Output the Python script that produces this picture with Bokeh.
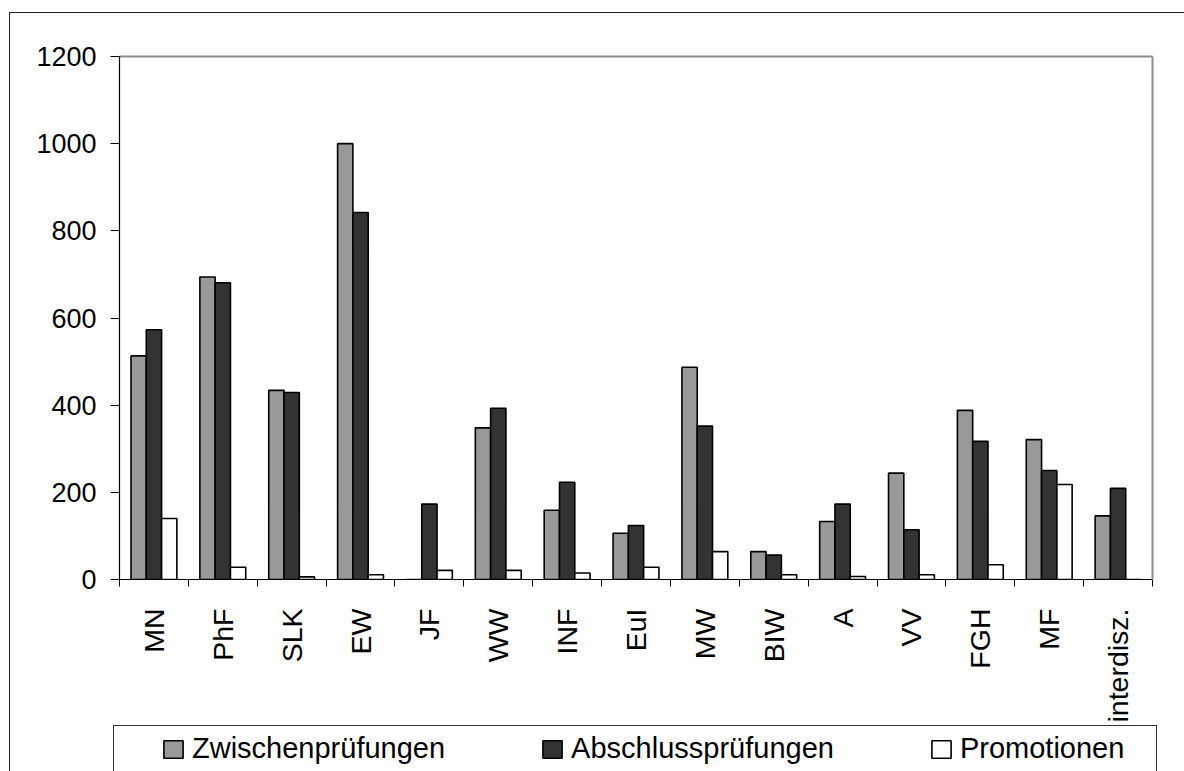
import math
import numpy as np
from bokeh.plotting import figure
from bokeh.layouts import column
from bokeh.models import (ColumnDataSource, Range1d, FixedTicker, LinearAxis, Legend,
                          LegendItem)
from bokeh.transform import dodge
from bokeh.embed import file_html
from bokeh.resources import INLINE

categories = ["MN", "PhF", "SLK", "EW", "JF", "WW", "INF", "EuI", "MW", "BIW",
              "A", "VV", "FGH", "MF", "interdisz."]
zwischen = [513, 694, 434, 1000, 0, 348, 159, 106, 487, 64, 133, 244, 388, 321, 146]
abschluss = [573, 681, 429, 842, 173, 393, 223, 124, 352, 56, 173, 114, 317, 250, 209]
promotionen = [140, 28, 6, 11, 21, 21, 15, 28, 64, 11, 7, 11, 34, 218, 0]
series_names = ["Zwischenprüfungen", "Abschlussprüfungen", "Promotionen"]
y_ticks = [0, 200, 400, 600, 800, 1000, 1200]

FONT = "Liberation Sans"
n = len(categories)
xpos = np.arange(n) + 0.5
source = ColumnDataSource(dict(x=xpos, z=zwischen, a=abschluss, p=promotionen))

W = 1184
H1 = 725
H2 = 46

p = figure(width=W, height=H1, output_backend="svg", toolbar_location=None,
           x_range=Range1d(0, n), y_range=Range1d(0, 1200),
           min_border_left=119, min_border_right=32, min_border_top=56,
           min_border_bottom=146, x_axis_type=None, y_axis_type=None)
p.outline_line_color = None
p.background_fill_color = None
p.border_fill_color = None

bw = 0.222
colors = ["#999999", "#333333", "#ffffff"]
fields = ["z", "a", "p"]
offsets = [-bw, 0.0, bw]
for f, c, o in zip(fields, colors, offsets):
    p.vbar(x=dodge("x", o), top=f, width=bw, source=source,
           fill_color=c, line_color="black", line_width=1.6)

# y axis
yaxis = LinearAxis(ticker=FixedTicker(ticks=y_ticks))
yaxis.axis_line_color = "black"
yaxis.axis_line_width = 1.2
yaxis.major_tick_out = 9
yaxis.major_tick_in = 0
yaxis.minor_tick_out = 0
yaxis.minor_tick_in = 0
yaxis.major_tick_line_color = "black"
yaxis.major_label_standoff = 14
yaxis.major_label_text_font = FONT
yaxis.major_label_text_font_size = "27px"
yaxis.major_label_text_color = "black"
p.add_layout(yaxis, "left")

# x axis: labels at centers, ticks at category borders
xaxis = LinearAxis(ticker=FixedTicker(ticks=list(xpos), minor_ticks=list(range(n + 1))))
xaxis.major_label_overrides = {float(x): c for x, c in zip(xpos, categories)}
xaxis.major_label_orientation = math.pi / 2
xaxis.axis_line_color = "black"
xaxis.axis_line_width = 1.2
xaxis.major_tick_out = 0
xaxis.major_tick_in = 0
xaxis.minor_tick_out = 7
xaxis.minor_tick_in = 0
xaxis.minor_tick_line_color = "black"
xaxis.major_label_standoff = 22
xaxis.major_label_text_font = FONT
xaxis.major_label_text_font_size = "28.5px"
xaxis.major_label_text_color = "black"
p.add_layout(xaxis, "below")

# grey plot-area border on top and right
for side in ("above", "right"):
    ax = LinearAxis(ticker=FixedTicker(ticks=[]))
    ax.axis_line_color = "#8c8c8c"
    ax.axis_line_width = 2
    ax.major_label_text_font_size = "0px"
    ax.major_tick_out = 0
    ax.minor_tick_out = 0
    p.add_layout(ax, side)

p.xgrid.visible = False
p.ygrid.ticker = FixedTicker(ticks=y_ticks[1:-1])
p.ygrid.grid_line_color = "#1a1a1a"
p.ygrid.grid_line_width = 1

# legend strip (its frame is aligned with the chart's frame by the column layout)
p2 = figure(width=W, height=H2, output_backend="svg", toolbar_location=None,
            x_range=Range1d(0, n), y_range=Range1d(0, 1200),
            min_border_left=0, min_border_right=0, min_border_top=0, min_border_bottom=0,
            x_axis_type=None, y_axis_type=None)
p2.outline_line_color = None
p2.background_fill_color = None
p2.border_fill_color = None
p2.grid.visible = False
leg_renderers = []
for f, c, o in zip(fields, colors, offsets):
    r = p2.vbar(x=dodge("x", o), top=f, width=bw, source=source,
                fill_color=c, line_color="black", line_width=1.6, visible=False)
    leg_renderers.append(r)

legend = Legend(items=[LegendItem(label=s, renderers=[r]) for s, r in zip(series_names, leg_renderers)],
                orientation="horizontal", location=(42, 6),
                glyph_width=24, glyph_height=22, label_standoff=7, spacing=95,
                padding=0, margin=0, border_line_color=None, background_fill_alpha=0,
                inactive_fill_alpha=0,
                label_text_font=FONT, label_text_font_size="29px", label_text_color="black")
p2.add_layout(legend, "center")

layout = column(p, p2, spacing=0)
layout.styles = {
    "background-color": "white",
    "background-image": ", ".join(["linear-gradient(#222222, #222222)"] * 2 +
                                  ["linear-gradient(#333333, #333333)"] * 3),
    "background-size": "1.4px 100%, 100% 1.4px, 1.2px 100%, 1044px 1.2px, 1.2px 100%",
    "background-position": "9px 12px, 9px 12px, 113px 725px, 113px 725px, 1156px 725px",
    "background-repeat": "no-repeat",
}

open("out.html", "w").write(file_html(layout, INLINE))
